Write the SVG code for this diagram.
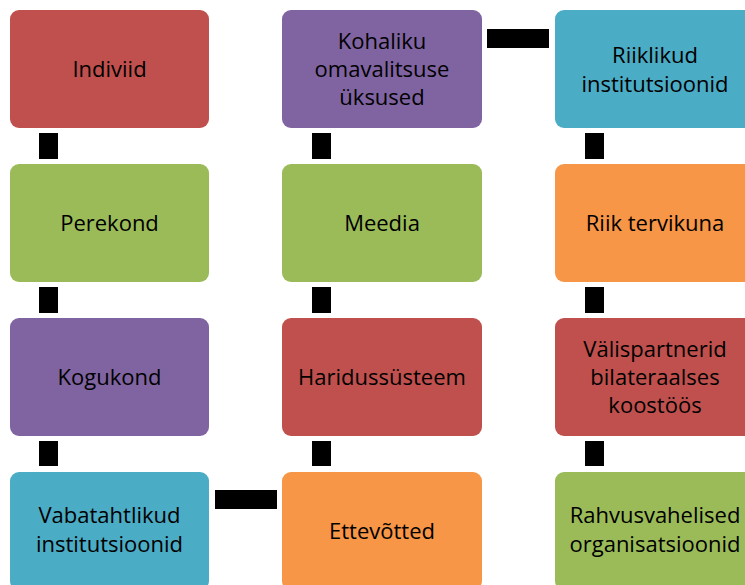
<svg xmlns="http://www.w3.org/2000/svg" width="745" height="585" viewBox="0 0 745 585">
<style>
.box{stroke:none}
.red{fill:#C0504D}.green{fill:#9BBB59}.purple{fill:#8064A2}.blue{fill:#4BACC6}.orange{fill:#F79646}
text{font-family:"Open Sans","Noto Sans",sans-serif;font-size:22px;fill:#000;text-anchor:middle}
.conn{fill:#000}
</style>
<rect width="745" height="585" fill="#fff"/>
<g id="connectors">
<rect class="conn" x="39" y="133" width="19" height="26"/>
<rect class="conn" x="39" y="287" width="19" height="26"/>
<rect class="conn" x="39" y="441" width="19" height="25"/>
<rect class="conn" x="312" y="133" width="19" height="26"/>
<rect class="conn" x="312" y="287" width="19" height="26"/>
<rect class="conn" x="312" y="441" width="19" height="25"/>
<rect class="conn" x="585" y="133" width="19" height="26"/>
<rect class="conn" x="585" y="287" width="19" height="26"/>
<rect class="conn" x="585" y="441" width="19" height="25"/>
<rect class="conn" x="487" y="29" width="62" height="19"/>
<rect class="conn" x="215" y="490" width="62" height="19"/>
</g>
<g id="n-individ"><rect class="box red" x="10" y="10" width="199" height="118" rx="9"/><text x="109.5" y="77">Indiviid</text></g>
<g id="n-perekond"><rect class="box green" x="10" y="164" width="199" height="118" rx="9"/><text x="109.5" y="231">Perekond</text></g>
<g id="n-kogukond"><rect class="box purple" x="10" y="318" width="199" height="118" rx="9"/><text x="109.5" y="385">Kogukond</text></g>
<g id="n-vabatahtlikud"><rect class="box blue" x="10" y="472" width="199" height="118" rx="9"/><text x="109.5" y="523">Vabatahtlikud</text><text x="109.5" y="552">institutsioonid</text></g>
<g id="n-kohaliku"><rect class="box purple" x="282" y="10" width="200" height="118" rx="9"/><text x="382" y="49">Kohaliku</text><text x="382" y="77">omavalitsuse</text><text x="382" y="105">üksused</text></g>
<g id="n-meedia"><rect class="box green" x="282" y="164" width="200" height="118" rx="9"/><text x="382" y="231">Meedia</text></g>
<g id="n-haridus"><rect class="box red" x="282" y="318" width="200" height="118" rx="9"/><text x="382" y="385">Haridussüsteem</text></g>
<g id="n-ettevotted"><rect class="box orange" x="282" y="472" width="200" height="118" rx="9"/><text x="382" y="539">Ettevõtted</text></g>
<g id="n-riiklikud"><rect class="box blue" x="555" y="10" width="200" height="118" rx="9"/><text x="655" y="63">Riiklikud</text><text x="655" y="92">institutsioonid</text></g>
<g id="n-riik"><rect class="box orange" x="555" y="164" width="200" height="118" rx="9"/><text x="655" y="231">Riik tervikuna</text></g>
<g id="n-valis"><rect class="box red" x="555" y="318" width="200" height="118" rx="9"/><text x="655" y="357">Välispartnerid</text><text x="655" y="385">bilateraalses</text><text x="655" y="413">koostöös</text></g>
<g id="n-rahvus"><rect class="box green" x="555" y="472" width="200" height="118" rx="9"/><text x="655" y="523">Rahvusvahelised</text><text x="655" y="552">organisatsioonid</text></g>
</svg>
